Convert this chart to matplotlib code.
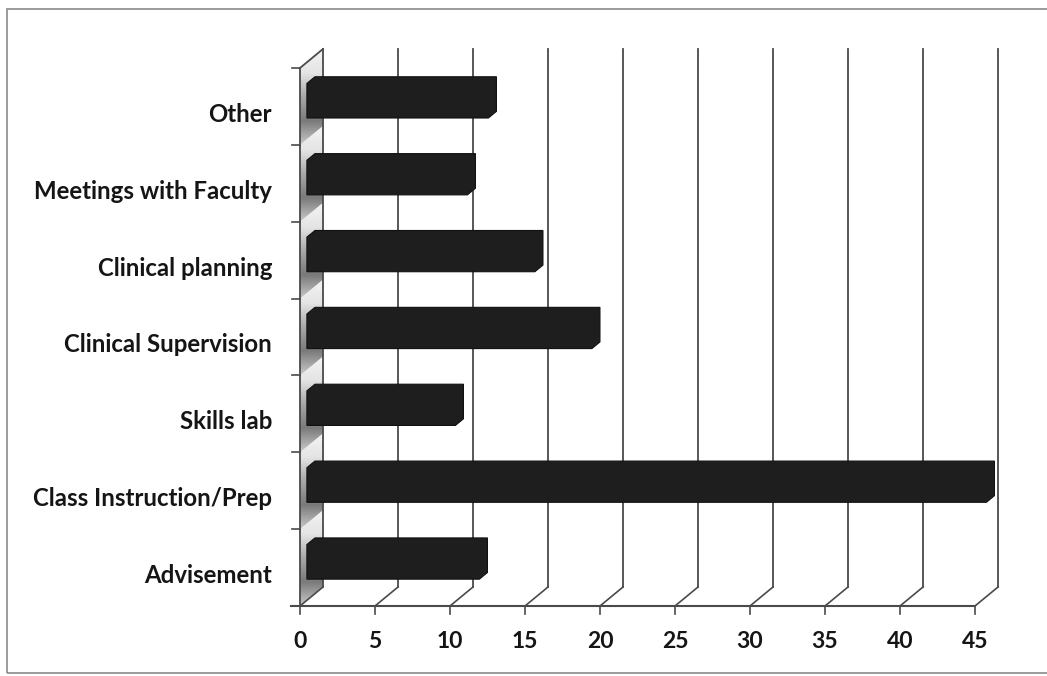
import numpy as np
import matplotlib
matplotlib.use("Agg")
import matplotlib.pyplot as plt
from matplotlib.patches import Polygon, Rectangle

# ---- data ----
categories = ["Advisement", "Class Instruction/Prep", "Skills lab",
              "Clinical Supervision", "Clinical planning",
              "Meetings with Faculty", "Other"]
values = [11.5, 45.3, 9.9, 19.0, 15.2, 10.7, 12.1]
xticks = [0, 5, 10, 15, 20, 25, 30, 35, 40, 45]

# ---- style / geometry ----
W, H, DPI = 1047, 676, 100
PX_X = 15.0          # pixels per value unit
PX_Y = 76.86         # pixels per category
X0_PX, Y0_PX = 300, 606
DX = 23 / PX_X       # depth offset (value units)
DY = 19 / PX_Y       # depth offset (category units)
F0, F1 = 0.30, 0.65  # bar depth fractions
BAR_H = 0.45
XMAX = 45
line_col = "#4a4a4a"
bar_col = "#1e1e1e"
text_col = "#151515"
plt.rcParams['font.family'] = ['Lato', 'DejaVu Sans']

fig = plt.figure(figsize=(W / DPI, H / DPI), dpi=DPI)
ax = fig.add_axes([0, 0, 1, 1])
ax.set_xlim(-X0_PX / PX_X, (W - X0_PX) / PX_X)
ax.set_ylim((Y0_PX - H) / PX_Y - 0.5, Y0_PX / PX_Y - 0.5)
ax.axis("off")

# outer frame
fig.patches.append(Rectangle((7 / W, 1 - 673 / H), 1.2, (673 - 9) / H,
                             transform=fig.transFigure, fill=False,
                             edgecolor="#8a8a8a", linewidth=1.2))

n = len(categories)
ybot, ytop = -0.5, n - 0.5

# left wall with gradient segments
grad = np.linspace(0, 1, 100)
cmap = matplotlib.colors.LinearSegmentedColormap.from_list(
    "wall", ["#f4f4f4", "#e4e4e4", "#a8a8a8", "#7a7a7a", "#c8c8c8"])
for i in range(n):
    yb, yt = i - 0.5, i + 0.5
    poly = Polygon([(0, yb), (DX, yb + DY), (DX, yt + DY), (0, yt)],
                   closed=True, facecolor="none", edgecolor="none")
    ax.add_patch(poly)
    im = ax.imshow(grad[:, None], extent=(0, DX, yb, yt + DY), origin="upper",
                   cmap=cmap, aspect="auto", zorder=1)
    im.set_clip_path(poly)

# back gridlines & floor diagonals
for v in xticks:
    ax.plot([v + DX, v + DX], [ybot + DY, ytop + DY], color=line_col,
            lw=1.3, zorder=2)
    ax.plot([v, v + DX], [ybot, ybot + DY], color=line_col, lw=1.2, zorder=2)
    ax.plot([v, v], [ybot, ybot - 8 / PX_Y], color=line_col, lw=1.2, zorder=2)
    ax.text(v, ybot - 36 / PX_Y, str(v), ha="center", va="center",
            fontsize=16.5, fontweight="bold", color=text_col)

# front axis line and wall edges
ax.plot([-0.6, XMAX], [ybot, ybot], color=line_col, lw=1.5, zorder=3)
ax.plot([0, 0], [ybot, ytop], color=line_col, lw=1.3, zorder=3)
ax.plot([0, DX], [ytop, ytop + DY], color=line_col, lw=1.3, zorder=3)
for k in range(n + 1):
    ax.plot([-0.55, 0], [k - 0.5, k - 0.5], color=line_col, lw=1.2, zorder=3)

# bars (3D look)
for i, v in enumerate(values):
    x0 = F0 * DX
    yc = i + F0 * DY
    yb, yt = yc - BAR_H / 2, yc + BAR_H / 2
    ddx, ddy = (F1 - F0) * DX, (F1 - F0) * DY
    pts = [(x0, yb), (x0 + v, yb), (x0 + v + ddx, yb + ddy),
           (x0 + v + ddx, yt + ddy), (x0 + ddx, yt + ddy), (x0, yt)]
    ax.add_patch(Polygon(pts, closed=True, facecolor=bar_col,
                         edgecolor="#111111", lw=0.8, zorder=4))
    ax.text(-28 / PX_X, i - 8 / PX_Y, categories[i],
            ha="right", va="center", fontsize=17.3, fontweight="bold",
            color=text_col)

fig.savefig("out.png", dpi=DPI)
